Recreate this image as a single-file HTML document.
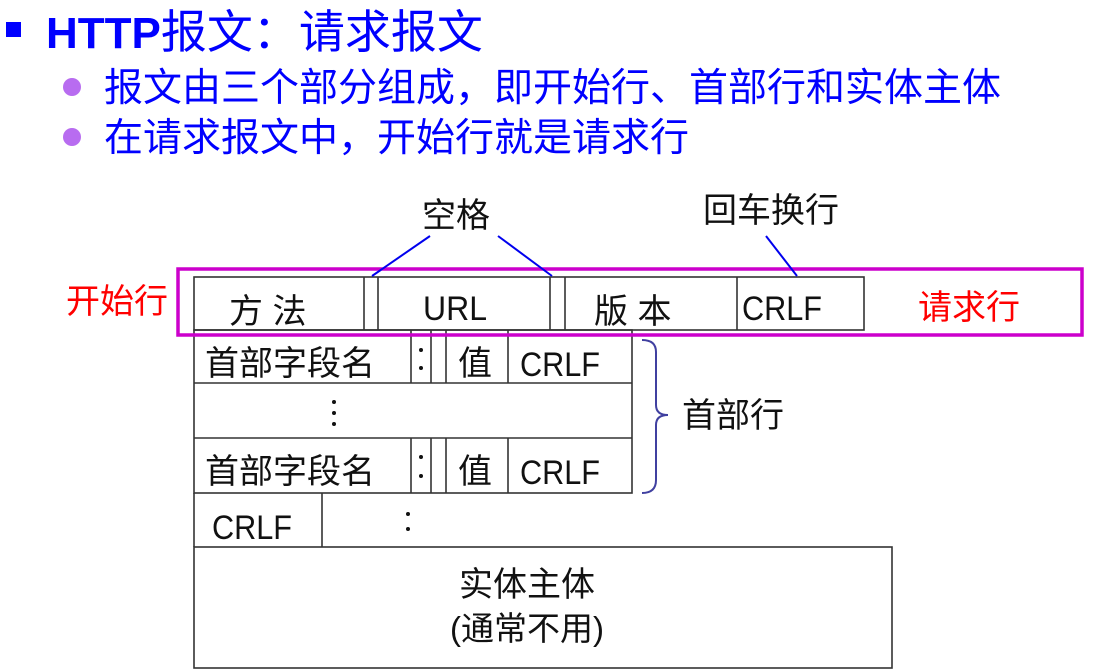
<!DOCTYPE html>
<html><head><meta charset="utf-8"><style>
html,body{margin:0;padding:0;background:#fff;width:1106px;height:671px;overflow:hidden}
svg text{font-family:"Liberation Sans","Noto Sans CJK SC",sans-serif}
</style></head><body>
<svg width="1106" height="671" viewBox="0 0 1106 671" xmlns="http://www.w3.org/2000/svg">
<rect x="6" y="22" width="15" height="15" fill="#0000ff"/>
<text x="46" y="48" font-size="40" fill="#0000ff"><tspan font-weight="bold" font-size="44">HTTP</tspan><tspan font-size="46">报文：请求报文</tspan></text>
<circle cx="72" cy="87" r="9" fill="#b86cf0"/>
<circle cx="72" cy="137" r="9" fill="#b86cf0"/>
<text x="104" y="101" font-size="39" fill="#0000ff">报文由三个部分组成，即开始行、首部行和实体主体</text>
<text x="104" y="151" font-size="39" fill="#0000ff">在请求报文中，开始行就是请求行</text>

<g fill="none" stroke="#333" stroke-width="1.6">
<rect x="194" y="277" width="670" height="53"/>
<line x1="364" y1="277" x2="364" y2="330"/><line x1="378" y1="277" x2="378" y2="330"/>
<line x1="550" y1="277" x2="550" y2="330"/><line x1="565" y1="277" x2="565" y2="330"/>
<line x1="737" y1="277" x2="737" y2="330"/>
<rect x="194" y="330" width="438" height="163"/>
<line x1="194" y1="383" x2="632" y2="383"/><line x1="194" y1="438" x2="632" y2="438"/>
<line x1="411" y1="330" x2="411" y2="383"/><line x1="431" y1="330" x2="431" y2="383"/><line x1="446" y1="330" x2="446" y2="383"/><line x1="508" y1="330" x2="508" y2="383"/>
<line x1="411" y1="438" x2="411" y2="493"/><line x1="431" y1="438" x2="431" y2="493"/><line x1="446" y1="438" x2="446" y2="493"/><line x1="508" y1="438" x2="508" y2="493"/>
<line x1="194" y1="493" x2="194" y2="547"/><line x1="322" y1="493" x2="322" y2="547"/>
<rect x="194" y="547" width="698" height="121"/>
</g>
<rect x="178" y="269" width="904" height="66" fill="none" stroke="#cc00cc" stroke-width="3.5"/>
<g stroke="#0000ee" stroke-width="2">
<line x1="430" y1="236" x2="372" y2="276"/><line x1="498" y1="236" x2="552" y2="276"/>
<line x1="766" y1="236" x2="797" y2="276"/>
</g>
<path d="M642 340 Q656 340 656 352 L656 405 Q656 415 668 415 Q656 415 656 425 L656 480 Q656 493 642 493" fill="none" stroke="#4040a0" stroke-width="2"/>
<g font-size="34" fill="#111">
<text x="422" y="227">空格</text>
<text x="703" y="222">回车换行</text>
<text x="229" y="323">方 法</text>
<text x="423" y="320" textLength="64" lengthAdjust="spacingAndGlyphs">URL</text>
<text x="594" y="323">版 本</text>
<text x="742" y="320" textLength="80" lengthAdjust="spacingAndGlyphs">CRLF</text>
<text x="205" y="375">首部字段名</text>
<text x="458" y="375">值</text>
<text x="520" y="376" textLength="80" lengthAdjust="spacingAndGlyphs">CRLF</text>
<text x="205" y="483">首部字段名</text>
<text x="458" y="483">值</text>
<text x="520" y="484" textLength="80" lengthAdjust="spacingAndGlyphs">CRLF</text>
<text x="212" y="539" textLength="80" lengthAdjust="spacingAndGlyphs">CRLF</text>
<text x="682" y="427">首部行</text>
<text x="459" y="596">实体主体</text>
<text x="450" y="640" font-size="33">(通常不用)</text>
</g>
<g fill="#111">
<circle cx="421" cy="350" r="2"/><circle cx="421" cy="368" r="2"/>
<circle cx="421" cy="457" r="2"/><circle cx="421" cy="476" r="2"/>
<circle cx="334" cy="402" r="2"/><circle cx="334" cy="413" r="2"/><circle cx="334" cy="424" r="2"/>
<circle cx="408" cy="514" r="2"/><circle cx="408" cy="529" r="2"/>
</g>
<text x="66" y="313" font-size="34" fill="#ff0000">开始行</text>
<text x="918" y="319" font-size="34" fill="#ff0000">请求行</text>
</svg>
</body></html>
